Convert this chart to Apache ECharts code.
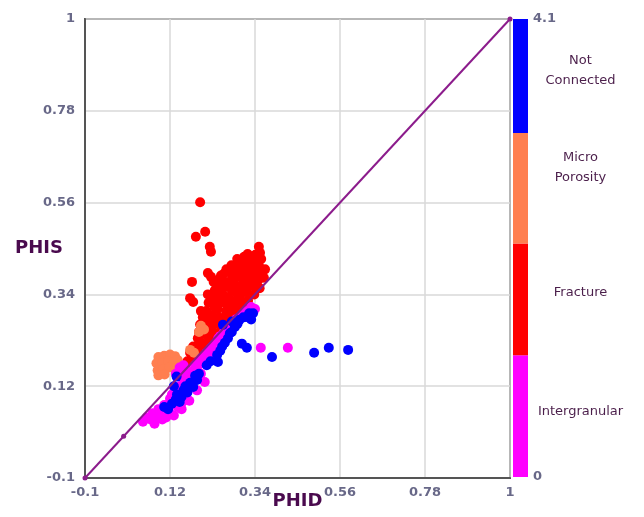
<!DOCTYPE html>
<html><head><meta charset="utf-8">
<script src="https://cdn.jsdelivr.net/npm/echarts@6/dist/echarts.min.js"></script>
<style>html,body{margin:0;padding:0;background:#fff}#c{width:644px;height:517px}</style>
</head><body><div id="c"></div>
<script>
// ---- axis / legend data ----
const axisMin = -0.1, axisMax = 1, axisStep = 0.22;
const scaleMin = 0, scaleMax = 4.1;
const classNames = ['Intergranular', 'Fracture', 'Micro\nPorosity', 'Not\nConnected'];
const classColors = ['#ff00ff', '#ff0000', '#ff7f50', '#0000ff'];
const classSpans = [1.09, 1.0, 0.99, 1.02];
const diagonal = [[-0.1, -0.1], [1, 1]];

// ---- points [PHID, PHIS] ----
const fracture = [
  [0.16,0.165],[0.165,0.18],
  [0.175,0.18],[0.172,0.2],[0.18,0.215],
  [0.19,0.195],[0.188,0.215],[0.192,0.235],[0.195,0.25],
  [0.205,0.205],[0.2,0.225],[0.203,0.245],[0.198,0.268],[0.205,0.285],[0.2,0.3],
  [0.215,0.22],[0.218,0.24],[0.212,0.26],[0.217,0.28],[0.214,0.3],[0.22,0.32],[0.218,0.34],
  [0.232,0.235],[0.228,0.255],[0.233,0.27],[0.229,0.29],[0.235,0.31],[0.231,0.33],[0.236,0.35],[0.233,0.37],
  [0.248,0.25],[0.244,0.27],[0.247,0.285],[0.243,0.305],[0.249,0.32],[0.246,0.34],[0.25,0.36],[0.245,0.375],[0.252,0.385],
  [0.262,0.265],[0.258,0.28],[0.265,0.3],[0.26,0.32],[0.263,0.335],[0.258,0.355],[0.264,0.37],[0.26,0.39],[0.266,0.4],
  [0.278,0.28],[0.274,0.295],[0.279,0.315],[0.273,0.33],[0.28,0.35],[0.276,0.365],[0.281,0.38],[0.275,0.395],[0.279,0.41],
  [0.292,0.295],[0.288,0.31],[0.295,0.33],[0.29,0.345],[0.293,0.36],[0.289,0.38],[0.296,0.395],[0.291,0.41],[0.294,0.425],
  [0.308,0.31],[0.304,0.325],[0.31,0.345],[0.305,0.36],[0.309,0.375],[0.303,0.39],[0.31,0.405],[0.306,0.42],[0.312,0.43],
  [0.322,0.325],[0.318,0.345],[0.324,0.36],[0.319,0.38],[0.325,0.395],[0.32,0.41],[0.326,0.425],[0.321,0.437],
  [0.338,0.34],[0.333,0.36],[0.339,0.375],[0.334,0.39],[0.34,0.405],[0.336,0.42],[0.341,0.435],
  [0.352,0.355],[0.349,0.375],[0.354,0.39],[0.35,0.41],[0.356,0.425],[0.353,0.44],
  [0.363,0.38],[0.366,0.4],
  [0.198,0.561],[0.187,0.478],[0.211,0.49],[0.223,0.454],[0.226,0.442],[0.35,0.454],
  [0.177,0.37],[0.218,0.391],[0.226,0.382],[0.172,0.331],[0.18,0.322]
];
const microPorosity = [
  [0.09,0.19],[0.105,0.193],[0.12,0.196],[0.133,0.192],
  [0.085,0.175],[0.1,0.176],[0.115,0.18],[0.13,0.178],[0.14,0.183],
  [0.088,0.158],[0.102,0.16],[0.118,0.165],[0.132,0.162],
  [0.09,0.146],[0.106,0.148],[0.145,0.17],
  [0.2,0.265],[0.208,0.256],[0.195,0.25],[0.172,0.207],[0.182,0.2]
];
const intergranular = [
  [0.05,0.035],[0.06,0.045],[0.07,0.04],[0.075,0.055],[0.085,0.05],[0.09,0.065],[0.1,0.06],[0.105,0.075],
  [0.115,0.07],[0.12,0.09],[0.13,0.085],[0.125,0.1],[0.135,0.105],[0.14,0.095],[0.145,0.12],[0.15,0.11],
  [0.155,0.13],[0.16,0.125],[0.165,0.145],[0.17,0.14],[0.175,0.155],[0.18,0.15],[0.185,0.17],[0.19,0.165],
  [0.195,0.18],[0.2,0.175],[0.205,0.19],[0.21,0.185],[0.215,0.2],[0.22,0.195],[0.225,0.21],[0.23,0.215],
  [0.24,0.225],[0.245,0.235],[0.25,0.24],[0.26,0.25],[0.265,0.26],[0.27,0.255],[0.28,0.27],[0.29,0.28],
  [0.3,0.285],[0.31,0.295],[0.32,0.3],[0.33,0.31],[0.34,0.305],
  [0.2,0.15],[0.19,0.14],[0.175,0.12],[0.16,0.1],[0.15,0.08],[0.14,0.07],[0.12,0.055],[0.1,0.04],[0.08,0.03],
  [0.11,0.045],[0.13,0.05],[0.15,0.065],[0.17,0.085],[0.19,0.11],[0.21,0.13],
  [0.135,0.15],[0.145,0.165],[0.155,0.17],[0.16,0.16],[0.15,0.145],
  [0.355,0.212],[0.425,0.212]
];
const strayPoint = [[0.0, 0.0]];
const notConnected = [
  [0.105,0.07],[0.115,0.065],[0.125,0.078],[0.135,0.088],[0.145,0.082],[0.138,0.1],[0.15,0.095],[0.155,0.11],
  [0.165,0.105],[0.16,0.12],[0.172,0.128],[0.18,0.118],[0.19,0.135],[0.185,0.145],[0.137,0.143],[0.13,0.12],[0.195,0.15],
  [0.215,0.17],[0.225,0.18],[0.244,0.178],[0.242,0.195],[0.25,0.205],[0.262,0.224],[0.255,0.215],[0.27,0.235],
  [0.275,0.247],[0.257,0.267],[0.288,0.262],[0.28,0.25],[0.295,0.27],[0.3,0.279],[0.31,0.285],[0.319,0.286],
  [0.325,0.295],[0.335,0.295],[0.33,0.28],[0.28,0.275],
  [0.306,0.222],[0.319,0.212],[0.384,0.19],[0.493,0.2],[0.531,0.212],[0.581,0.207]
];

const labelOffsets = [-4, -7, -21, -5];

const fmt = v => String(+(+v).toFixed(2));
const tickFont = { fontFamily: 'DejaVu Sans', fontSize: 13, fontWeight: 'bold', color: '#686888' };
const nameFont = { fontFamily: 'DejaVu Sans', fontSize: 18, fontWeight: 'bold', color: '#4a0a4e' };

const chart = echarts.init(document.getElementById('c'), null, { renderer: 'canvas' });

const colorbarSeries = classNames.map((n, i) => ({
  type: 'bar', xAxisIndex: 1, yAxisIndex: 1, stack: 'cb', barWidth: '100%',
  data: [classSpans[i]], itemStyle: { color: classColors[i] }, silent: true,
  label: {
    show: true, position: 'inside', offset: [60, labelOffsets[i]],
    formatter: n, align: 'center', verticalAlign: 'middle',
    fontFamily: 'DejaVu Sans', fontSize: 13, color: '#4b1f4b', lineHeight: 20
  }
}));

const scatter = (data, color, z) => ({
  type: 'scatter', xAxisIndex: 0, yAxisIndex: 0, data, symbolSize: 10, z,
  itemStyle: { color, opacity: 1 }
});

chart.setOption({
  animation: false,
  backgroundColor: '#ffffff',
  grid: [
    { left: 85, top: 19, width: 425, height: 459, show: true, borderColor: '#555', borderWidth: 2, containLabel: false, outerBoundsMode: 'none' },
    { left: 513, top: 19, width: 15, height: 458, containLabel: false, outerBoundsMode: 'none' }
  ],
  xAxis: [
    {
      gridIndex: 0, type: 'value', min: axisMin, max: axisMax, interval: axisStep,
      name: 'PHID', nameLocation: 'middle', nameGap: 14, nameMoveOverlap: false, nameTextStyle: nameFont,
      axisLine: { show: true, onZero: false, lineStyle: { color: '#555', width: 2 } },
      axisTick: { show: false },
      axisLabel: Object.assign({ formatter: fmt, margin: 8 }, tickFont),
      splitLine: { show: true, lineStyle: { color: '#d8d8d8', width: 1.5 } }
    },
    { gridIndex: 1, type: 'category', data: [''], show: false }
  ],
  yAxis: [
    {
      gridIndex: 0, type: 'value', min: axisMin, max: axisMax, interval: axisStep,
      name: 'PHIS', nameLocation: 'middle', nameGap: 22, nameRotate: 0, nameMoveOverlap: false,
      nameTextStyle: Object.assign({ verticalAlign: 'middle', padding: [0, 0, 10, 0] }, nameFont),
      axisLine: { show: true, onZero: false, lineStyle: { color: '#555', width: 2 } },
      axisTick: { show: false },
      axisLabel: Object.assign({ formatter: fmt, margin: 10 }, tickFont),
      splitLine: { show: true, lineStyle: { color: '#d8d8d8', width: 1.5 } }
    },
    {
      gridIndex: 1, type: 'value', position: 'right', min: scaleMin, max: scaleMax, interval: scaleMax,
      axisLine: { show: false }, axisTick: { show: false }, splitLine: { show: false },
      axisLabel: Object.assign({ formatter: fmt, margin: 5 }, tickFont)
    }
  ],
  series: [
    scatter(fracture, classColors[1], 2),
    scatter(microPorosity, classColors[2], 3),
    scatter(intergranular, classColors[0], 4),
    Object.assign(scatter(strayPoint, '#8c1c8c', 4), { symbolSize: 5 }),
    scatter(notConnected, classColors[3], 5),
    {
      type: 'line', xAxisIndex: 0, yAxisIndex: 0, data: diagonal, z: 10,
      symbol: 'circle', symbolSize: 5, showSymbol: true,
      lineStyle: { color: '#8c1c8c', width: 2 }, itemStyle: { color: '#8c1c8c' }
    },
    ...colorbarSeries
  ]
});
</script>
</body></html>
